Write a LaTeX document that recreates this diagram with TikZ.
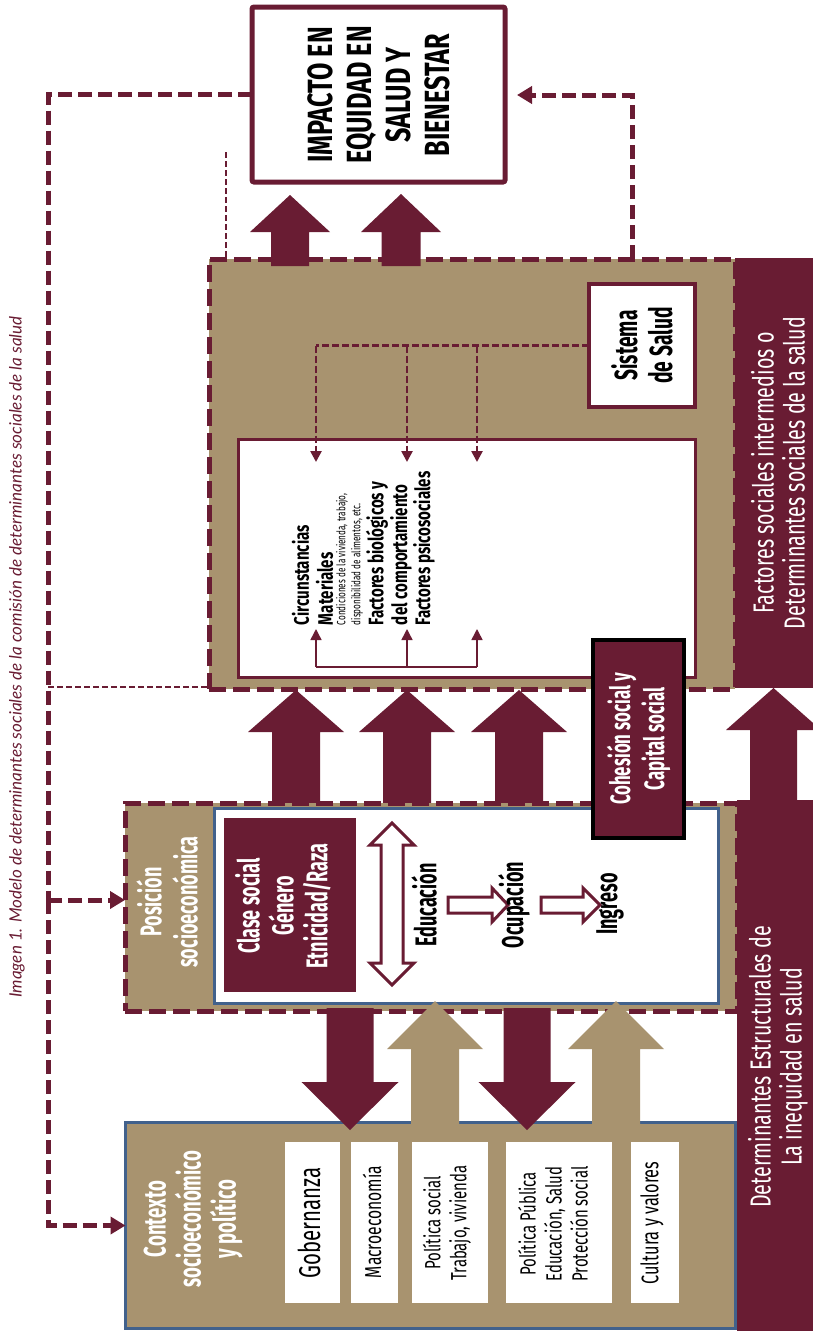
\documentclass[tikz,border=0pt]{standalone}
\usepackage{fontspec}
\usetikzlibrary{arrows.meta}
\newfontfamily\condb[FakeStretch=0.6]{Fira Sans}
\newfontfamily\condbw[FakeStretch=0.72]{Fira Sans}
\newfontfamily\condr[FakeStretch=0.68]{Fira Sans}
\newfontfamily\capfont{Lato}
\definecolor{mar}{HTML}{691C33}
\definecolor{tanc}{HTML}{A8936F}
\definecolor{bluec}{HTML}{41618C}
\newcommand\blockarrow[7]{% cx, tip, headbase, tail, headhalf, shafthalf, color
  \fill[#7] ({#1-#6},#4) -- ({#1-#6},#3) -- ({#1-#5},#3) -- (#1,#2) -- ({#1+#5},#3) -- ({#1+#6},#3) -- ({#1+#6},#4) -- cycle;}
\tikzset{
  box/.style={anchor=north west, inner sep=0pt, outer sep=0pt},
  txt/.style={rotate=90, inner sep=0pt, outer sep=0pt},
  bigdash/.style={draw=mar, line width=5pt, dash pattern=on 17pt off 7pt},
  fbk/.style={draw=mar, line width=5pt, dash pattern=on 14pt off 6pt},
  fbtip/.style={-{Triangle[width=17pt,length=15pt]}},
  thindash/.style={draw=mar, line width=1.2pt, dash pattern=on 6pt off 3pt},
  sdash/.style={draw=mar, line width=2.5pt, dash pattern=on 7pt off 3pt},
  stip/.style={-{Triangle[width=11pt,length=11pt]}},
  outl/.style={draw=mar, fill=white, line width=3pt, line join=miter},
  bt/.style={txt, font=\condb\bfseries},
  rt/.style={txt, font=\condr},
}
\begin{document}
\begin{tikzpicture}[x=1pt, y=-1pt]
\useasboundingbox (0,0) rectangle (813,1331);

% right bands
\node[box, fill=mar, minimum width=78pt, minimum height=430pt] (bandtop) at (735,258) {};
\node[box, fill=mar, minimum width=76pt, minimum height=531pt] (bandbot) at (737,800) {};
\blockarrow{773.5}{688}{730}{802}{47.5}{23.5}{mar}

% thin dashed lines
\coordinate (tl1) at (226,152);
\coordinate (tl2) at (226,259);
\draw[thindash] (tl1) -- (tl2);

% intermediate big box
\node[box, fill=tanc, bigdash, minimum width=526pt, minimum height=430pt] (inter) at (209,259) {};
\coordinate (tla) at (48,687);
\draw[thindash] (tla) -- (tla -| inter.west);

% arrows to impact
\blockarrow{290}{195}{232}{266}{40}{19}{mar}
\blockarrow{401}{194}{232}{266}{40}{19.5}{mar}

% impact box
\node[box, draw=mar, line width=5pt, fill=white, rounded corners=2pt, minimum width=253pt, minimum height=175pt] (impbox) at (252,7) {};
\node[bt, font=\condbw\bfseries\fontsize{35}{39}\selectfont, align=center] (imptxt) at (379,95) {IMPACTO EN\\EQUIDAD EN\\SALUD Y\\BIENESTAR};

% feedback dashed lines
\coordinate (fbl) at (48,94.5);
\coordinate (fbb) at (48,900);
\coordinate (fbr) at (632,95);
\draw[fbk] (impbox.west) -- (fbl) -- (fbb);

% sistema de salud
\node[box, draw=mar, line width=4pt, fill=white, minimum width=106pt, minimum height=123pt] (sis) at (589,284) {};
\node[bt, font=\condb\bfseries\fontsize{32}{35}\selectfont, align=center] (sistxt) at (sis.center) {Sistema\\de Salud};

% inner white box
\node[box, draw=mar, line width=3pt, fill=white, minimum width=457pt, minimum height=238pt] (inner) at (238.5,439.5) {};

% connectors from sistema
\coordinate (s1) at (316,345.5);
\coordinate (s2) at (407,345.5);
\coordinate (s3) at (477,345.5);
\coordinate (t1) at (316,462);
\coordinate (t2) at (407,462);
\coordinate (t3) at (477,462);
\draw[sdash] (sis.west) -- (s1);
\draw[sdash, stip] (s1) -- (t1);
\draw[sdash, stip] (s2) -- (t2);
\draw[sdash, stip] (s3) -- (t3);

\coordinate (b1) at (316,667);
\coordinate (b2) at (407,667);
\coordinate (b3) at (477,667);
\coordinate (u1) at (316,629);
\coordinate (u2) at (407,629);
\coordinate (u3) at (477,629);
\draw[mar, line width=1.5pt] (b1) -- (b3);
\draw[mar, line width=1.5pt, stip] (b1) -- (u1);
\draw[mar, line width=1.5pt, stip] (b2) -- (u2);
\draw[mar, line width=1.5pt, stip] (b3) -- (u3);

\node[bt, anchor=west, font=\condbw\bfseries\fontsize{21}{24}\selectfont] (c1) at (300.5,625) {Circunstancias};
\node[bt, anchor=west, font=\condbw\bfseries\fontsize{21}{24}\selectfont] (c2) at (324.5,625) {Materiales};
\node[rt, anchor=west, font=\condr\fontsize{12}{14}\selectfont] (c3) at (342,625) {Condiciones de la vivienda, trabajo,};
\node[rt, anchor=west, font=\condr\fontsize{12}{14}\selectfont] (c4) at (357,625) {disponibilidad de alimentos, etc.};
\node[bt, anchor=west, font=\condbw\bfseries\fontsize{21}{24}\selectfont] (c5) at (377,625) {Factores biológicos y};
\node[bt, anchor=west, font=\condbw\bfseries\fontsize{21}{24}\selectfont] (c6) at (401,625) {del comportamiento};
\node[bt, anchor=west, font=\condbw\bfseries\fontsize{21}{24}\selectfont] (c7) at (424,625) {Factores psicosociales};

% arrows from posicion to intermediate
\blockarrow{296}{690}{732}{806}{48}{24}{mar}
\blockarrow{407}{690}{732}{806}{48}{24}{mar}
\blockarrow{519}{690}{732}{806}{48}{24}{mar}

% posicion box
\node[box, fill=tanc, bigdash, minimum width=612pt, minimum height=208pt] (pos) at (125,803) {};
\node[box, draw=bluec, line width=3pt, fill=white, minimum width=504pt, minimum height=195pt] (poswhite) at (214.5,808.5) {};
\node[bt, text=white, font=\condb\bfseries\fontsize{30}{36}\selectfont, align=center] (postxt) at (167,902) {Posición\\socioeconómica};
\node[box, fill=mar, minimum width=132pt, minimum height=174pt] (clase) at (224,818) {};
\node[bt, text=white, font=\condb\bfseries\fontsize{30}{34}\selectfont, align=center] (clasetxt) at (283,906) {Clase social\\Género\\Etnicidad/Raza};

\draw[outl] (392,823) -- (414,845) -- (403,845) -- (403,963) -- (414,963) -- (392,985) -- (370,963) -- (381,963) -- (381,845) -- (370,845) -- cycle;
\draw[outl] (448,897) -- (492,897) -- (492,888) -- (508,905) -- (492,922) -- (492,913) -- (448,913) -- cycle;
\draw[outl] (541,897) -- (583,897) -- (583,888) -- (600,905) -- (583,922) -- (583,913) -- (541,913) -- cycle;
\node[bt, font=\condb\bfseries\fontsize{30}{34}\selectfont] (edu) at (424,905) {Educación};
\node[bt, font=\condb\bfseries\fontsize{30}{34}\selectfont] (ocu) at (514,905) {Ocupación};
\node[bt, font=\condb\bfseries\fontsize{30}{34}\selectfont] (ing) at (610,904) {Ingreso};

% cohesion
\node[box, draw=black, line width=4pt, fill=mar, minimum width=91pt, minimum height=198pt] (coh) at (593,640) {};
\node[bt, text=white, font=\condb\bfseries\fontsize{28}{34}\selectfont, align=center] (cohtxt) at (coh.center) {Cohesión social y\\Capital social};

% context box
\node[box, draw=bluec, line width=3pt, fill=tanc, minimum width=610pt, minimum height=206pt] (ctx) at (125.5,1122.5) {};
\node[bt, text=white, font=\condb\bfseries\fontsize{31}{35}\selectfont, align=center] (ctxtxt) at (193,1219) {Contexto\\socioeconómico\\y político};

% arrows between posicion and context
\blockarrow{350}{1130}{1082}{1008}{48.5}{23.5}{mar}
\blockarrow{527}{1130}{1082}{1008}{48.5}{23.5}{mar}
\blockarrow{435}{1001}{1049}{1124}{48}{24}{tanc}
\blockarrow{616}{1001}{1049}{1124}{48}{24}{tanc}

% context white boxes
\node[box, fill=white, minimum width=55pt, minimum height=161pt] (gob) at (285,1142) {};
\node[box, fill=white, minimum width=47pt, minimum height=161pt] (mac) at (351,1142) {};
\node[box, fill=white, minimum width=76pt, minimum height=161pt] (pso) at (412,1142) {};
\node[box, fill=white, minimum width=106pt, minimum height=161pt] (ppu) at (506,1142) {};
\node[box, fill=white, minimum width=48pt, minimum height=161pt] (cul) at (631,1142) {};
\node[rt, font=\condr\fontsize{30}{34}\selectfont] (gobtxt) at (309,1223) {Gobernanza};
\node[rt, font=\condr\fontsize{23}{28}\selectfont] (mactxt) at (372,1222) {Macroeconomía};
\node[rt, font=\condr\fontsize{22}{26}\selectfont, align=center] (psotxt) at (447,1223) {Política social\\Trabajo, vivienda};
\node[rt, font=\condr\fontsize{22}{26}\selectfont, align=center] (pputxt) at (553,1224) {Política Pública\\Educación, Salud\\Protección social};
\node[rt, font=\condr\fontsize{24}{26}\selectfont] (cultxt) at (652,1223) {Cultura y valores};

% band texts
\node[rt, text=white, font=\condr\fontsize{29}{31}\selectfont, align=center] (bt1) at (778,473) {Factores sociales intermedios o\\Determinantes sociales de la salud};
\node[rt, text=white, font=\condr\fontsize{29}{31}\selectfont, align=center] (bt2) at (778,1067) {Determinantes Estructurales de\\La inequidad en salud};

% feedback connectors (with arrows)
\draw[fbk, fbtip] (fbb) |- (ctx.west);
\draw[fbk, fbtip] (fbb) -- (fbb -| pos.west);
\draw[fbk, fbtip, shorten >=12pt] (inter.north -| fbr) -- (fbr) -- (fbr -| impbox.east);

% caption
\node[txt, text=mar, font=\capfont\itshape\fontsize{17}{20}\selectfont] (cap) at (17,657) {Imagen 1. Modelo de determinantes sociales de la comisión de determinantes sociales de la salud};
\end{tikzpicture}
\end{document}
